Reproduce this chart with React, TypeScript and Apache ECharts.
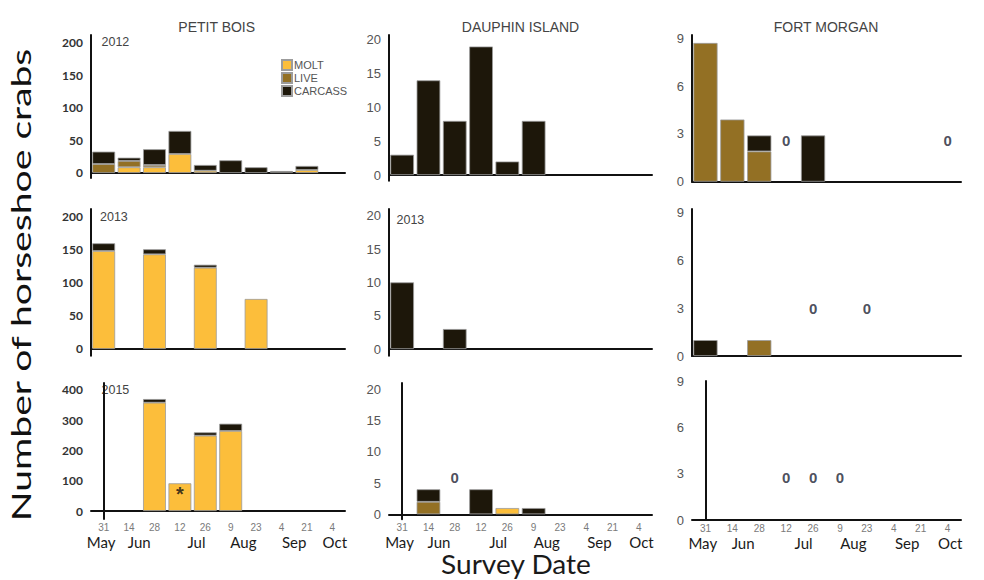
import React, { useEffect, useRef } from 'react';
import * as echarts from 'echarts';

// ---------- data ----------
const categories = ['31 May', '14 Jun', '28 Jun', '12 Jul', '26 Jul', '9 Aug', '23 Aug', '4 Sep', '21 Sep', '4 Oct'];
const monthNames = ['May', 'Jun', 'Jul', 'Aug', 'Sep', 'Oct'];
const monthPositions = [-0.1, 1.4, 3.65, 5.5, 7.5, 9.1];
const sites = ['PETIT BOIS', 'DAUPHIN ISLAND', 'FORT MORGAN'];
const seriesNames = ['MOLT', 'LIVE', 'CARCASS'];

const pbTicksLow = [0, 50, 100, 150, 200];
const pbTicksHigh = [0, 100, 200, 300, 400];
const diTicks = [0, 5, 10, 15, 20];
const fmTicks = [0, 3, 6, 9];

// Petit Bois
const pb2012Molt = [0, 8.8, 8.8, 29.2, 3.5, 0, 0, 0, 4.6, 0];
const pb2012Live = [13.8, 9.7, 3.5, 0, 0, 0, 0, 0, 0, 0];
const pb2012Carcass = [19, 5, 24.2, 35.4, 8.8, 19.5, 8.8, 3, 6.2, 0];
const pb2013Molt = [147.7, 0, 142.7, 0, 122.5, 0, 75.4, 0, 0, 0];
const pb2013Live = [0, 0, 0, 0, 0, 0, 0, 0, 0, 0];
const pb2013Carcass = [11.6, 0, 7.6, 0, 4.5, 0, 0, 0, 0, 0];
const pb2015Molt = [0, 0, 358, 91.6, 249, 264.5, 0, 0, 0, 0];
const pb2015Live = [0, 0, 0, 0, 0, 0, 0, 0, 0, 0];
const pb2015Carcass = [0, 0, 12, 0, 11, 24, 0, 0, 0, 0];

// Dauphin Island
const di2012Molt = [0, 0, 0, 0, 0, 0, 0, 0, 0, 0];
const di2012Live = [0, 0, 0, 0, 0, 0, 0, 0, 0, 0];
const di2012Carcass = [3, 14, 8, 19, 2, 8, 0, 0, 0, 0];
const di2013Molt = [0, 0, 0, 0, 0, 0, 0, 0, 0, 0];
const di2013Live = [0, 0, 0, 0, 0, 0, 0, 0, 0, 0];
const di2013Carcass = [10, 0, 3, 0, 0, 0, 0, 0, 0, 0];
const di2015Molt = [0, 0, 0, 0, 1, 0, 0, 0, 0, 0];
const di2015Live = [0, 2, 0, 0, 0, 0, 0, 0, 0, 0];
const di2015Carcass = [0, 2, 0, 4, 0, 1, 0, 0, 0, 0];

// Fort Morgan
const fm2012Molt = [0, 0, 0, 0, 0, 0, 0, 0, 0, 0];
const fm2012Live = [8.7, 3.9, 1.9, 0, 0, 0, 0, 0, 0, 0];
const fm2012Carcass = [0, 0, 1.0, 0, 2.9, 0, 0, 0, 0, 0];
const fm2013Molt = [0, 0, 0, 0, 0, 0, 0, 0, 0, 0];
const fm2013Live = [0, 0, 1, 0, 0, 0, 0, 0, 0, 0];
const fm2013Carcass = [1, 0, 0, 0, 0, 0, 0, 0, 0, 0];
const fm2015Molt = [0, 0, 0, 0, 0, 0, 0, 0, 0, 0];
const fm2015Live = [0, 0, 0, 0, 0, 0, 0, 0, 0, 0];
const fm2015Carcass = [0, 0, 0, 0, 0, 0, 0, 0, 0, 0];

// categories where a "0" (surveyed, none found) is written
const di2015Zeros = [2];
const fm2012Zeros = [3, 9];
const fm2013Zeros = [4, 6];
const fm2015Zeros = [3, 4, 5];
// category with significance asterisk (Petit Bois 2015)
const pb2015Star = [3];

// ---------- layout / style ----------
const COLORS = ['#FCBE3B', '#937024', '#1D170A'];
const COL_LEFT = [91, 389, 692];
const COL_WIDTH = [254, 263, 269];
const GRID_TOP = [[35, 209, 383], [35, 209, 383], [35, 209, 381]];
const GRID_AXIS = [[178, 355.7, 519], [180.7, 355.7, 519.3], [181.7, 356, 520]];
const Y_RANGE = [
  [[-7.7, 212], [-10.1, 211], [-26.4, 423]],
  [[-0.84, 20.7], [-1, 21], [-0.8, 21]],
  [[0, 9.2], [0, 9.25], [0, 9]],
];
const ZERO_Y = [[0, 0, 0], [0, 0, 5.9], [2.6, 3.0, 2.75]];
const STAR_Y = 74;
const YEAR_POS = [
  { x: 101.5, y: 41.7, text: '2012' },
  { x: 100, y: 216.7, text: '2013' },
  { x: 101.5, y: 390, text: '2015' },
  { x: 396.5, y: 220, text: '2013' },
];
const TITLE_X = [216.7, 520.5, 826];

const panelData = [
  // [row][col]
  [
    { s: [pb2012Molt, pb2012Live, pb2012Carcass], zeros: [] as number[], ticks: pbTicksLow },
    { s: [di2012Molt, di2012Live, di2012Carcass], zeros: [] as number[], ticks: diTicks },
    { s: [fm2012Molt, fm2012Live, fm2012Carcass], zeros: fm2012Zeros, ticks: fmTicks },
  ],
  [
    { s: [pb2013Molt, pb2013Live, pb2013Carcass], zeros: [] as number[], ticks: pbTicksLow },
    { s: [di2013Molt, di2013Live, di2013Carcass], zeros: [] as number[], ticks: diTicks },
    { s: [fm2013Molt, fm2013Live, fm2013Carcass], zeros: fm2013Zeros, ticks: fmTicks },
  ],
  [
    { s: [pb2015Molt, pb2015Live, pb2015Carcass], zeros: [] as number[], ticks: pbTicksHigh },
    { s: [di2015Molt, di2015Live, di2015Carcass], zeros: di2015Zeros, ticks: diTicks },
    { s: [fm2015Molt, fm2015Live, fm2015Carcass], zeros: fm2015Zeros, ticks: fmTicks },
  ],
];

function buildOption() {
  const grid: any[] = [];
  const xAxis: any[] = [];
  const yAxis: any[] = [];
  const series: any[] = [];

  for (let r = 0; r < 3; r++) {
    for (let c = 0; c < 3; c++) {
      const idx = r * 3 + c;
      const p = panelData[r][c];
      grid.push({
        left: COL_LEFT[c],
        top: GRID_TOP[c][r],
        width: COL_WIDTH[c],
        height: GRID_AXIS[c][r] - GRID_TOP[c][r],
      });
      xAxis.push({
        gridIndex: idx,
        type: 'category',
        data: categories,
        axisLine: { show: true, lineStyle: { color: '#111', width: 2 } },
        axisTick: { show: false },
        axisLabel: {
          show: r === 2,
          interval: 0,
          margin: 3,
          fontSize: 10,
          lineHeight: 11,
          color: '#7a7a7a',
          fontFamily: 'Liberation Sans',
          formatter: (v: string) => v.split(' ')[0],
        },
      });
      const pbStyle = { fontSize: 12, fontWeight: 'bold', color: '#333', fontFamily: 'Lato', margin: 8 };
      const otherStyle = { fontSize: 13, color: '#555', fontFamily: 'Liberation Sans', margin: 8 };
      yAxis.push({
        gridIndex: idx,
        type: 'value',
        min: Y_RANGE[c][r][0],
        max: Y_RANGE[c][r][1],
        splitLine: { show: false },
        axisTick: { show: false },
        axisLine: { show: true, lineStyle: { color: '#111', width: 2 } },
        axisLabel: { customValues: p.ticks, ...(c === 0 ? pbStyle : otherStyle) },
      });
      for (let k = 0; k < 3; k++) {
        series.push({
          type: 'bar',
          name: seriesNames[k],
          xAxisIndex: idx,
          yAxisIndex: idx,
          stack: 'p' + idx,
          barCategoryGap: '10%',
          data: p.s[k].map((v) => (v === 0 ? null : v)),
          itemStyle: { color: COLORS[k], borderColor: '#9c9c9c', borderWidth: 0.8 },
        });
      }
      if (p.zeros.length) {
        series.push({
          type: 'scatter',
          name: 'zero',
          xAxisIndex: idx,
          yAxisIndex: idx,
          symbolSize: 1,
          itemStyle: { color: 'rgba(0,0,0,0)' },
          data: p.zeros.map((i) => [i, ZERO_Y[c][r]]),
          label: {
            show: true,
            position: 'inside',
            formatter: '0',
            fontSize: 15,
            fontWeight: 'bold',
            color: '#1c2233',
            fontFamily: 'Liberation Sans',
          },
        });
      }
    }
  }

  // star on Petit Bois 2015
  series.push({
    type: 'scatter',
    name: 'star',
    xAxisIndex: 6,
    yAxisIndex: 6,
    symbolSize: 1,
    itemStyle: { color: 'rgba(0,0,0,0)' },
    data: pb2015Star.map((i) => [i, STAR_Y]),
    label: {
      show: true,
      position: 'inside',
      formatter: '*',
      fontSize: 20,
      fontWeight: 'bold',
      color: '#111',
      fontFamily: 'Liberation Sans',
      offset: [0, 5],
    },
  });

  // month axes for bottom row
  for (let c = 0; c < 3; c++) {
    xAxis.push({
      gridIndex: 6 + c,
      type: 'value',
      min: -0.5,
      max: 9.5,
      position: 'bottom',
      axisLine: { show: false },
      axisTick: { show: false },
      splitLine: { show: false },
      axisLabel: {
        customValues: monthPositions,
        margin: 15,
        fontSize: 15,
        lineHeight: 15,
        color: '#1a1a1a',
        fontFamily: 'Lato',
        formatter: (v: number) => monthNames[monthPositions.indexOf(v)] ?? '',
      },
    });
  }

  const graphic: any[] = [];
  sites.forEach((s, i) => {
    graphic.push({
      type: 'text',
      x: TITLE_X[i],
      y: 27,
      style: { text: s, fontSize: 14, fontFamily: 'Liberation Sans', fill: '#444', align: 'center', verticalAlign: 'middle' },
    });
  });
  YEAR_POS.forEach((yp) => {
    graphic.push({
      type: 'text',
      x: yp.x,
      y: yp.y,
      style: { text: yp.text, fontSize: 12.5, fontFamily: 'Liberation Sans', fill: '#444', align: 'left', verticalAlign: 'middle' },
    });
  });
  graphic.push({
    type: 'text',
    x: 21,
    y: 285,
    rotation: Math.PI / 2,
    scaleX: 1.45,
    style: {
      text: 'Number of horseshoe crabs',
      fontSize: 27,
      fontFamily: 'Lato',
      fill: '#111',
      align: 'center',
      verticalAlign: 'middle',
    },
  });
  graphic.push({
    type: 'text',
    x: 516,
    y: 563.5,
    scaleX: 1.08,
    style: {
      text: 'Survey Date',
      fontSize: 26,
      lineHeight: 26,
      fontFamily: 'Lato',
      fill: '#1a1a1a',
      align: 'center',
      verticalAlign: 'middle',
    },
  });

  return {
    animation: false,
    backgroundColor: '#fff',
    legend: {
      data: seriesNames,
      orient: 'vertical',
      left: 281,
      top: 59,
      itemWidth: 10,
      itemHeight: 10,
      itemGap: 1,
      padding: 0,
      icon: 'rect',
      selectedMode: false,
      textStyle: { fontSize: 11, color: '#555', fontFamily: 'Liberation Sans', lineHeight: 11, padding: [0, 0, 0, -3] },
    },
    grid,
    xAxis,
    yAxis,
    series,
    graphic,
  };
}

export default function App() {
  const ref = useRef<HTMLDivElement>(null);
  useEffect(() => {
    if (!ref.current) return;
    const chart = echarts.init(ref.current, undefined, { renderer: 'svg' });
    chart.setOption(buildOption() as any);
    return () => chart.dispose();
  }, []);
  return (
    <div
      ref={ref}
      style={{ position: 'absolute', left: 0, top: 0, width: 984, height: 580, background: '#fff' }}
    />
  );
}
